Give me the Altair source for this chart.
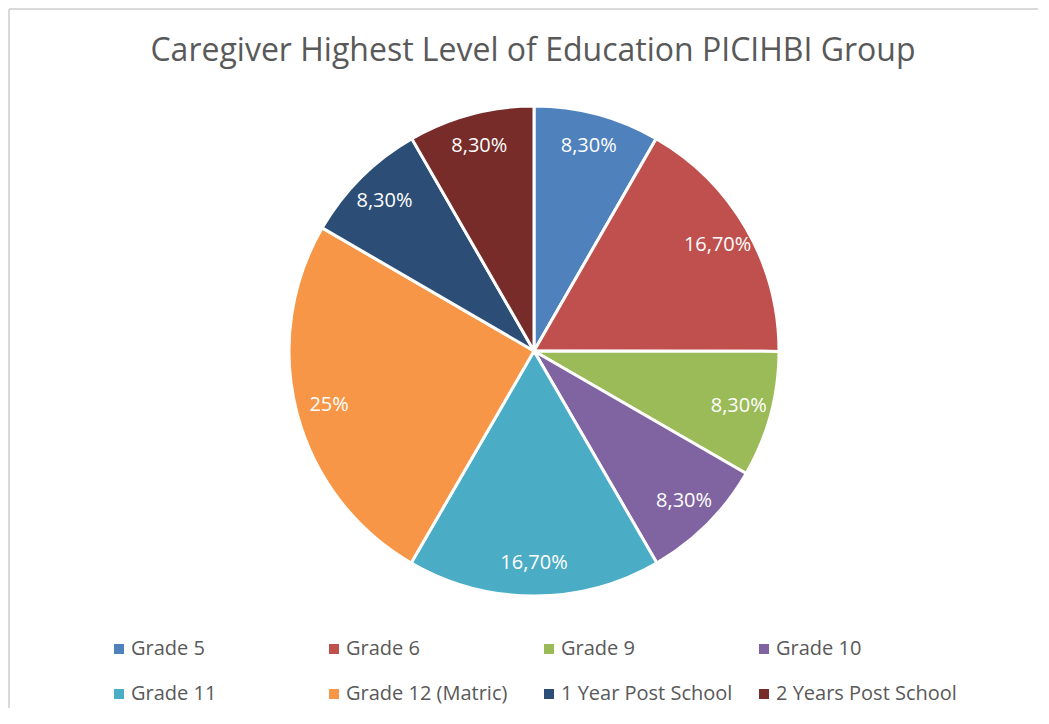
import altair as alt
import pandas as pd

categories = ["Grade 5", "Grade 6", "Grade 9", "Grade 10", "Grade 11",
              "Grade 12 (Matric)", "1 Year Post School", "2 Years Post School"]
values = [8.3, 16.7, 8.3, 8.3, 16.7, 25.0, 8.3, 8.3]
labels = ["8,30%", "16,70%", "8,30%", "8,30%", "16,70%", "25%", "8,30%", "8,30%"]
colors = ["#4F81BD", "#C0504D", "#9BBB59", "#8064A2", "#4BACC6",
          "#F79646", "#2C4D75", "#772C2A"]
title_text = "Caregiver Highest Level of Education PICIHBI Group"

df = pd.DataFrame({"category": categories, "value": values,
                   "label": labels, "order": list(range(len(categories)))})

W, H = 1030, 700
CX, CY, R = 525, 342, 245
FONT = "Open Sans"

base = alt.Chart(df).encode(
    theta=alt.Theta("value:Q", stack=True),
    order=alt.Order("order:Q"),
)

pie = base.mark_arc(outerRadius=R, stroke="white", strokeWidth=3).encode(
    x=alt.value(CX), y=alt.value(CY),
    color=alt.Color(
        "category:N",
        scale=alt.Scale(domain=categories, range=colors),
        sort=categories,
        legend=alt.Legend(
            title=None, orient="none", legendX=100, legendY=630,
            columns=4, direction="horizontal", gridAlign="all",
            columnPadding=12, rowPadding=25, padding=0,
            symbolType="square", symbolSize=100, symbolStrokeWidth=0,
            labelFont=FONT, labelFontSize=20, labelColor="#595959",
            labelOffset=2, labelLimit=400,
        ),
    ),
)

text = base.mark_text(radius=212, font=FONT, fontSize=20, color="white",
                      align="center", baseline="middle").encode(
    x=alt.value(CX), y=alt.value(CY),
    text="label:N",
)

title_df = pd.DataFrame({"t": [title_text]})
title = alt.Chart(title_df).mark_text(
    font=FONT, fontSize=32, color="#595959", align="center",
    baseline="alphabetic").encode(
    x=alt.value(524), y=alt.value(52), text="t:N")

border_df = pd.DataFrame({"k": [0]})
left_line = alt.Chart(border_df).mark_rule(color="#d9d9d9", strokeWidth=2).encode(
    x=alt.value(0), y=alt.value(0), y2=alt.value(H))
top_line = alt.Chart(border_df).mark_rule(color="#d9d9d9", strokeWidth=2).encode(
    x=alt.value(0), x2=alt.value(W), y=alt.value(0))

chart = alt.layer(left_line, top_line, pie, text, title).properties(
    width=W, height=H,
    autosize=alt.AutoSizeParams(type="fit", contains="padding"),
    padding=0,
    background="white",
).configure_view(strokeWidth=0, stroke="transparent")

chart.save("out.html", embed_options={"renderer": "svg", "actions": False})
